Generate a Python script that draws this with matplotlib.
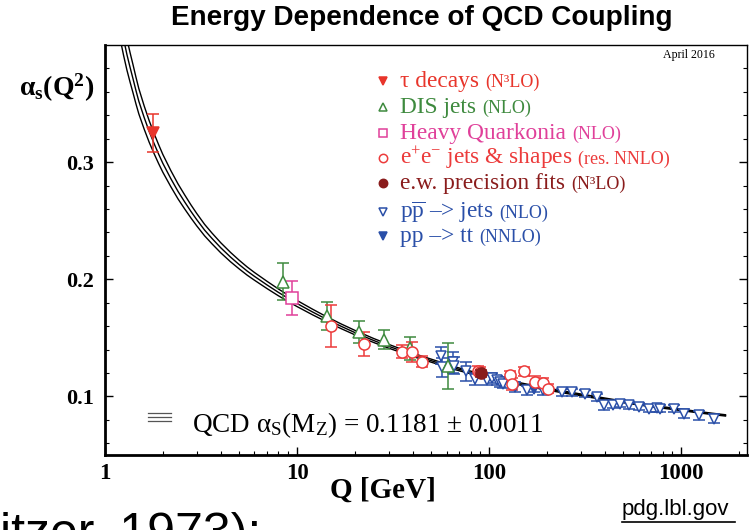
import matplotlib
matplotlib.use("Agg")
import matplotlib.pyplot as plt
from matplotlib.lines import Line2D
import numpy as np

# ---------------- data ----------------
# QCD running curve: central value and half-width of the band
curve_q = [1.2, 1.25, 1.3, 1.35, 1.4, 1.45, 1.5, 1.6, 1.7, 1.8, 1.9, 2.0, 2.2, 2.4, 2.6,
           2.8, 3.0, 3.3, 3.6, 4.0, 4.5, 5.0, 5.5, 6.0, 7.0, 8.0, 9.0, 10, 12, 14, 17,
           20, 25, 30, 40, 50, 65, 80, 91.19, 110, 130, 160, 200, 250, 300, 400, 500,
           650, 800, 1000, 1200, 1450, 1700]
curve_a = [0.420, 0.405, 0.392, 0.381, 0.371, 0.361, 0.352, 0.338, 0.326, 0.316, 0.307,
           0.299, 0.286, 0.275, 0.266, 0.258, 0.251, 0.242, 0.235, 0.227, 0.219, 0.2125,
           0.2070, 0.2025, 0.1950, 0.1888, 0.1837, 0.1793, 0.1722, 0.1665, 0.1598,
           0.1545, 0.1478, 0.1428, 0.1355, 0.1305, 0.1245, 0.1205, 0.1181, 0.1148,
           0.1123, 0.1093, 0.1063, 0.1035, 0.1013, 0.0979, 0.0953, 0.0926, 0.0906,
           0.0885, 0.0868, 0.0851, 0.0838]
curve_w = [0.015, 0.014, 0.0133, 0.0126, 0.012, 0.0114, 0.0108, 0.0099, 0.0092, 0.0086,
           0.0081, 0.0076, 0.0069, 0.0064, 0.0060, 0.0056, 0.0053, 0.0049, 0.0046,
           0.0043, 0.0040, 0.0037, 0.0035, 0.0033, 0.0031, 0.0029, 0.0027, 0.0026,
           0.0024, 0.0022, 0.0020, 0.0019, 0.0017, 0.0016, 0.0014, 0.0013, 0.0012,
           0.00115, 0.0011, 0.00105, 0.0010, 0.00095, 0.0009, 0.00085, 0.0008, 0.00075,
           0.0007, 0.00068, 0.00065, 0.00062, 0.0006, 0.00058, 0.00056]

tau_q = [1.777]
tau_a = [0.325]
tau_e = [0.016]

dis_q = [8.4, 14.4, 20.9, 28.5, 38.8, 61.4]
dis_a = [0.198, 0.169, 0.155, 0.1485, 0.141, 0.126]
dis_e = [0.016, 0.012, 0.009, 0.008, 0.010, 0.020]

hq_q = [9.46]
hq_a = [0.184]
hq_e = [0.0145]

ee_q = [15.0, 22.2, 35.1, 39.6, 44.6, 87.4, 89.6, 128.6, 131.3, 151, 173.6, 191.8, 203.6]
ee_a = [0.1604, 0.1449, 0.1383, 0.1378, 0.1298, 0.1221, 0.1208, 0.1179, 0.1108, 0.1213,
        0.1123, 0.1117, 0.1066]
ee_e = [0.018, 0.0105, 0.0054, 0.0085, 0.0047, 0.004, 0.004, 0.004, 0.005, 0.004,
        0.005, 0.004, 0.004]

ew_q = [91.19]
ew_a = [0.1196]
ew_e = [0.003]

ppj_q = [56.0, 57.0, 64.7, 65.7, 75.6, 84.6, 97.3, 103.3, 109.6, 114.1, 118.7, 136.5,
         157.1, 191.8, 239.2, 269.7, 316, 364, 394, 444, 481, 532, 600, 676, 747, 778,
         912, 1028, 1231, 1473]
ppj_a = [0.1349, 0.125, 0.1293, 0.1264, 0.1213, 0.1151, 0.1136, 0.1157, 0.1136, 0.1123,
         0.1108, 0.108, 0.1051, 0.1051, 0.1037, 0.1037, 0.1023, 0.0995, 0.0923, 0.0929,
         0.0938, 0.0923, 0.091, 0.0895, 0.0901, 0.0895, 0.0895, 0.0853, 0.0838, 0.081]
ppj_e = [0.007, 0.008, 0.009, 0.007, 0.008, 0.005, 0.004, 0.004, 0.004, 0.004, 0.004,
         0.004, 0.004, 0.004, 0.003, 0.003, 0.003, 0.003, 0.004, 0.003, 0.003, 0.003,
         0.003, 0.003, 0.003, 0.003, 0.003, 0.004, 0.004, 0.004]

ppt_q = [170.2]
ppt_a = [0.1066]
ppt_e = [0.003]

x_ticks = [1, 10, 100, 1000]
x_ticklabels = ["1", "10", "100", "1000"]
y_ticks = [0.1, 0.2, 0.3]
y_ticklabels = ["0.1", "0.2", "0.3"]

legend_main = ["τ decays", "DIS jets", "Heavy Quarkonia",
               r"e$^{\mathregular{+}}$e$^{\mathregular{-}}$ jets & shapes",
               "e.w. precision fits", r"p$\overline{\mathregular{p}}$ –> jets", "pp –> tt"]
legend_small = ["(N³LO)", "(NLO)", "(NLO)", "(res. NNLO)", "(N³LO)", "(NLO)", "(NNLO)"]

# ---------------- style ----------------
SERIF = ["Liberation Serif", "DejaVu Serif"]
SANS = ["Liberation Sans", "DejaVu Sans"]
plt.rcParams["font.family"] = SERIF
plt.rcParams["mathtext.fontset"] = "custom"
plt.rcParams["mathtext.rm"] = "Liberation Serif"
plt.rcParams["mathtext.it"] = "Liberation Serif:italic"
plt.rcParams["mathtext.bf"] = "Liberation Serif:bold"

C_TAU = "#e8352b"
C_DIS = "#3e8a3e"
C_HQ = "#e0409a"
C_EE = "#ec3b3b"
C_EW = "#8a1c1c"
C_PP = "#2a4fa8"

W, H = 752, 530
AX_L, AX_R, AX_T, AX_B = 105, 747, 45, 455
fig = plt.figure(figsize=(W / 100, H / 100), dpi=100)
ax = fig.add_axes([AX_L / W, 1 - AX_B / H, (AX_R - AX_L) / W, (AX_B - AX_T) / H])


def axfx(px):
    return (px - AX_L) / (AX_R - AX_L)


def axfy(py):
    return (AX_B - py) / (AX_B - AX_T)


# curve
cq = np.array(curve_q)
ca = np.array(curve_a)
cw = np.array(curve_w)
for s in (-1, 0, 1):
    ax.plot(cq, ca + s * cw, color="black", lw=1.0, zorder=2)


def draw(q, a, e, marker, color, fill, ms=7, zorder=4):
    ax.errorbar(q, a, yerr=e, fmt="none", ecolor=color, elinewidth=1.1,
                capsize=4, capthick=1.1, zorder=zorder)
    ax.plot(q, a, ls="none", marker=marker, ms=ms, mec=color,
            mfc=color if fill else "white", mew=1.1, zorder=zorder + 0.5)


draw(ppj_q, ppj_a, ppj_e, "v", C_PP, False, ms=7)
draw(ppt_q, ppt_a, ppt_e, "v", C_PP, True, ms=7)
draw(dis_q, dis_a, dis_e, "^", C_DIS, False, ms=8)
draw(hq_q, hq_a, hq_e, "s", C_HQ, False, ms=8)
draw(ee_q, ee_a, ee_e, "o", C_EE, False, ms=8)
draw(ew_q, ew_a, ew_e, "o", C_EW, True, ms=8, zorder=6)
draw(tau_q, tau_a, tau_e, "v", C_TAU, True, ms=9)

ax.set_xscale("log")
ax.set_xlim(1, 2200)
ax.set_ylim(0.05, 0.40)
ax.set_xticks(x_ticks)
ax.set_xticklabels(x_ticklabels, fontsize=16.5, fontweight="bold")
ax.set_yticks(y_ticks)
ax.set_yticklabels(y_ticklabels, fontsize=16, fontweight="bold")
ax.set_yticks(np.arange(0.06, 0.40, 0.02), minor=True)
ax.tick_params(axis="x", which="major", direction="in", length=6, width=1, pad=6)
ax.tick_params(axis="y", which="major", direction="in", length=6, width=1, pad=8)
ax.tick_params(axis="both", which="minor", direction="in", length=3, width=0.8)
ax.tick_params(axis="y", which="both", right=True)
ax.tick_params(axis="x", which="both", top=False)
ax.yaxis.set_minor_formatter(matplotlib.ticker.NullFormatter())
ax.xaxis.set_minor_formatter(matplotlib.ticker.NullFormatter())
for side in ("left", "bottom"):
    ax.spines[side].set_linewidth(2.0)
for side in ("top", "right"):
    ax.spines[side].set_linewidth(1.0)

fig.text(383 / W, 1 - 490 / H, "Q [GeV]", fontsize=21, fontweight="bold",
         ha="center", va="center")

# title and labels
fig.text(422 / W, 1 - 18 / H, "Energy Dependence of QCD Coupling", family=SANS,
         fontweight="bold", fontsize=20.1, ha="center", va="center")
fig.text(19 / W, 1 - 88 / H, r"$\mathbf{\alpha_s(Q^2)}$", fontsize=20,
         ha="left", va="center")
ax.text(axfx(715), axfy(49), "April 2016", transform=ax.transAxes, fontsize=8.6,
        ha="right", va="top")

# legend (marker + two-size text)
leg_markers = [("v", C_TAU, True), ("^", C_DIS, False), ("s", C_HQ, False),
               ("o", C_EE, False), ("o", C_EW, True), ("v", C_PP, False), ("v", C_PP, True)]
leg_colors = [C_TAU, C_DIS, C_HQ, C_EE, C_EW, C_PP, C_PP]
row_y = [80.7, 106.7, 132.7, 158.3, 183.3, 211.7, 236.0]
main_texts = []
for (mk, col, fill), main, yy, tc in zip(leg_markers, legend_main, row_y, leg_colors):
    ax.plot([axfx(383)], [axfy(yy)], transform=ax.transAxes, marker=mk, ms=6,
            mec=col, mfc=col if fill else "white", mew=1.1, ls="none", clip_on=False)
    t = ax.text(axfx(400), axfy(yy + 6), main, transform=ax.transAxes, fontsize=16.8,
                color=tc, ha="left", va="baseline")
    main_texts.append(t)

fig.canvas.draw()
renderer = fig.canvas.get_renderer()
for t, small, yy, tc in zip(main_texts, legend_small, row_y, leg_colors):
    bb = t.get_window_extent(renderer)
    x_px = bb.x1 + 6
    ax.text(axfx(x_px), axfy(yy + 6), small, transform=ax.transAxes, fontsize=13,
            color=tc, ha="left", va="baseline")

# curve key
for dy in (-4, 0, 4):
    yf = axfy(417 + dy)
    ax.plot([axfx(148), axfx(171)], [yf, yf], transform=ax.transAxes,
            color="#555555", lw=0.9)
ax.text(axfx(192), axfy(432), r"QCD α$_{\mathregular{S}}$(M$_{\mathregular{Z}}$) = 0.1181 ± 0.0011",
        transform=ax.transAxes, fontsize=19.5, ha="left", va="baseline")

# slide leftovers
fig.text(622 / W, 1 - 515 / H, "pdg.lbl.gov", family=SANS, fontsize=16,
         ha="left", va="baseline")
fig.add_artist(Line2D([622 / W, 735 / W], [1 - 521.5 / H, 1 - 521.5 / H],
                      transform=fig.transFigure, color="black", lw=1.2))
fig.text(0 / W, 1 - 548 / H, "itzer, 1973):", family=SANS, fontsize=36,
         ha="left", va="baseline")

fig.savefig("out.png", dpi=100)
